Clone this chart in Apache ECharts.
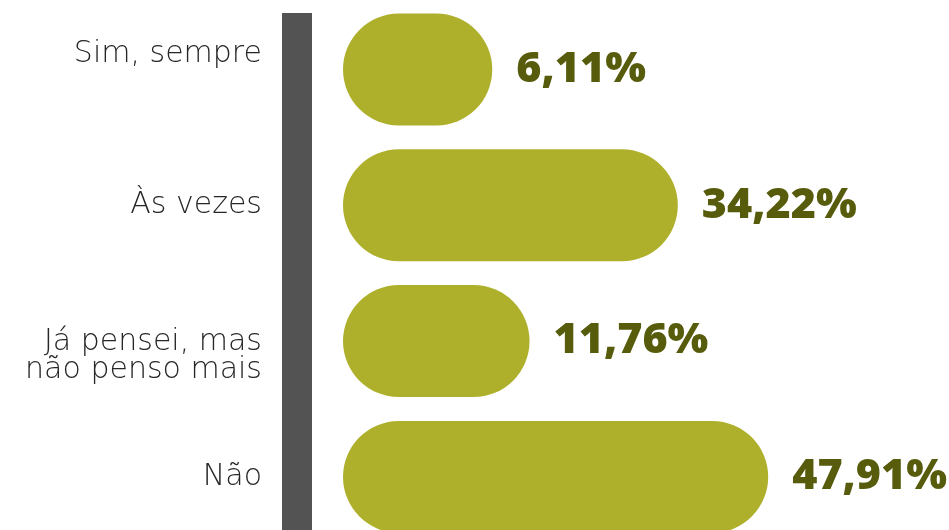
<!DOCTYPE html>
<html>
<head>
<meta charset="utf-8">
<script src="https://cdn.jsdelivr.net/npm/echarts@6/dist/echarts.min.js"></script>
<style>
html,body{margin:0;padding:0;background:#ffffff;}
#chart{width:949px;height:530px;}
</style>
</head>
<body>
<div id="chart"></div>
<script>
// Data
const categories = ['Sim, sempre', 'Às vezes', 'Já pensei, mas\nnão penso mais', 'Não'];
const values = [6.11, 34.22, 11.76, 47.91];

const chart = echarts.init(document.getElementById('chart'), null, {renderer: 'canvas'});

const axisMin = -16.5;
const catFont = {fontFamily: 'DejaVu Sans', fontWeight: 200, fontSize: 30, color: '#262626', lineHeight: 28};

const option = {
  backgroundColor: '#ffffff',
  animation: false,
  grid: [
    {left: 343, right: 35, top: 1.6, height: 543.2, containLabel: false, outerBoundsMode: 'none'},
    {left: 297, width: 100, top: 13, height: 540, outerBoundsMode: 'none'}
  ],
  xAxis: [
    {type: 'value', gridIndex: 0, min: axisMin, max: 70, startValue: axisMin, show: false},
    {type: 'value', gridIndex: 1, min: 0, max: 1, show: false}
  ],
  yAxis: [
    {
      type: 'category',
      gridIndex: 0,
      inverse: true,
      data: categories,
      axisLine: {show: false},
      axisTick: {show: false},
      splitLine: {show: false},
      axisLabel: {
        margin: 81,
        align: 'right',
        ...catFont,
        formatter: function (v, i) {
          const lines = v.split('\n').map(s => '{n|' + s + '}');
          if (i === 0) lines.push('{sp| }');
          if (i === 2) lines.unshift('{sp| }');
          return lines.join('\n');
        },
        rich: {
          n: Object.assign({}, catFont),
          sp: {fontSize: 10, lineHeight: 30}
        }
      }
    },
    {
      type: 'value',
      gridIndex: 1,
      min: 0,
      max: 1,
      axisLine: {show: true, lineStyle: {color: '#535353', width: 30, cap: 'butt'}},
      axisTick: {show: false},
      axisLabel: {show: false},
      splitLine: {show: false}
    }
  ],
  series: [
    {
      type: 'bar',
      xAxisIndex: 0,
      yAxisIndex: 0,
      data: values,
      barWidth: 112,
      itemStyle: {color: '#aeb02b', borderRadius: 56},
      label: {
        show: true,
        position: 'right',
        distance: 24,
        formatter: p => p.value.toFixed(2).replace('.', ',') + '%',
        fontFamily: 'Open Sans',
        fontWeight: 800,
        fontSize: 43,
        color: '#575b0c'
      }
    }
  ]
};

chart.setOption(option);
</script>
</body>
</html>
